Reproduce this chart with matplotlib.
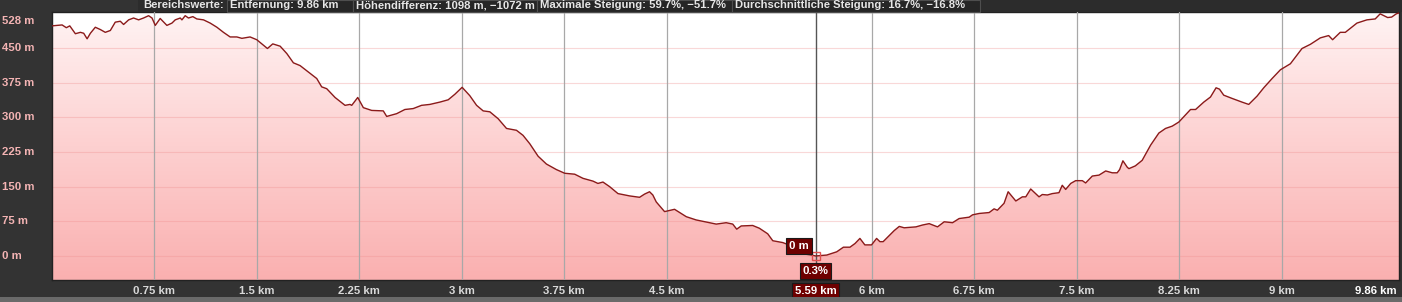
import matplotlib.pyplot as plt
import matplotlib.transforms as mtransforms
from matplotlib.patches import Polygon, Rectangle
from matplotlib.colors import LinearSegmentedColormap
import numpy as np

# elevation profile (km, m)
dist_km = [0.0, 0.074, 0.105, 0.13, 0.171, 0.208, 0.232, 0.257, 0.281, 0.317,
           0.354, 0.39, 0.427, 0.463, 0.5, 0.524, 0.561, 0.597, 0.634, 0.67,
           0.707, 0.732, 0.756, 0.792, 0.841, 0.878, 0.902, 0.939, 0.951, 0.975,
           0.999, 1.031, 1.06, 1.109, 1.158, 1.207, 1.255, 1.304, 1.353, 1.39,
           1.45, 1.499, 1.577, 1.616, 1.67, 1.719, 1.767, 1.816, 1.877, 1.938,
           1.974, 2.011, 2.072, 2.145, 2.181, 2.194, 2.238, 2.279, 2.34, 2.425,
           2.45, 2.523, 2.583, 2.644, 2.705, 2.766, 2.839, 2.9, 2.949, 3.002,
           3.058, 3.108, 3.156, 3.205, 3.266, 3.327, 3.4, 3.448, 3.497, 3.558,
           3.619, 3.692, 3.753, 3.826, 3.887, 3.96, 3.996, 4.033, 4.082, 4.143,
           4.228, 4.301, 4.338, 4.374, 4.398, 4.423, 4.484, 4.557, 4.606, 4.643,
           4.715, 4.813, 4.862, 4.935, 4.983, 5.012, 5.045, 5.129, 5.178, 5.239,
           5.276, 5.349, 5.43, 5.512, 5.561, 5.59, 5.671, 5.744, 5.793, 5.841,
           5.878, 5.914, 5.95, 5.999, 6.036, 6.06, 6.084, 6.121, 6.165, 6.202,
           6.238, 6.324, 6.372, 6.421, 6.482, 6.531, 6.592, 6.64, 6.714, 6.738,
           6.787, 6.86, 6.896, 6.92, 6.969, 6.999, 7.055, 7.103, 7.128, 7.164,
           7.225, 7.249, 7.286, 7.322, 7.371, 7.395, 7.42, 7.457, 7.493, 7.542,
           7.566, 7.615, 7.664, 7.713, 7.761, 7.797, 7.815, 7.839, 7.871, 7.883,
           7.93, 7.98, 8.042, 8.102, 8.151, 8.2, 8.249, 8.334, 8.371, 8.431,
           8.48, 8.521, 8.546, 8.577, 8.638, 8.711, 8.76, 8.821, 8.87, 8.931,
           8.992, 9.065, 9.15, 9.211, 9.284, 9.345, 9.374, 9.43, 9.467, 9.552,
           9.625, 9.686, 9.722, 9.777, 9.806, 9.84, 9.86]
elev_m = [498, 500, 494, 498, 481, 484, 482, 470, 482, 495,
          490, 484, 488, 506, 508, 501, 511, 515, 511, 515,
          520, 515, 499, 514, 499, 504, 511, 515, 511, 520,
          515, 518, 513, 511, 504, 495, 484, 474, 474, 471,
          474, 468, 449, 459, 454, 438, 418, 412, 398, 384,
          366, 362, 343, 326, 328, 326, 343, 321, 315, 314,
          302, 308, 317, 319, 326, 328, 333, 338, 350, 365,
          347, 326, 314, 312, 297, 276, 272, 261, 243, 216,
          199, 187, 179, 177, 168, 162, 157, 160, 150, 135,
          130, 127, 134, 139, 132, 117, 96, 101, 92, 85,
          78, 72, 69, 72, 69, 58, 65, 66, 60, 48,
          33, 29, 20, 4, 2, 0, 2, 9, 19, 19,
          27, 38, 24, 24, 38, 31, 31, 42, 55, 64,
          61, 63, 67, 70, 63, 74, 72, 81, 84, 89,
          92, 94, 102, 99, 114, 139, 119, 128, 128, 145,
          128, 133, 132, 135, 137, 153, 144, 157, 163, 163,
          158, 173, 175, 184, 180, 180, 187, 206, 192, 189,
          195, 207, 240, 266, 276, 281, 290, 317, 317, 333,
          344, 364, 361, 348, 341, 333, 328, 346, 364, 384,
          403, 416, 449, 458, 472, 477, 468, 484, 484, 504,
          511, 513, 524, 516, 517, 524, 526]

x_ticks = [0.75, 1.5, 2.25, 3, 3.75, 4.5, 6, 6.75, 7.5, 8.25, 9]
x_tick_labels = ['0.75 km', '1.5 km', '2.25 km', '3 km', '3.75 km', '4.5 km',
                 '6 km', '6.75 km', '7.5 km', '8.25 km', '9 km']
y_ticks = [0, 75, 150, 225, 300, 375, 450]
y_tick_labels = ['0 m', '75 m', '150 m', '225 m', '300 m', '375 m', '450 m']

total_km = 9.86
sel_km = 5.59
header = ['Entfernung: 9.86 km', 'Höhendifferenz: 1098 m, \u22121072 m',
          'Maximale Steigung: 59.7%, \u221251.7%',
          'Durchschnittliche Steigung: 16.7%, \u221216.8%']

W, H = 1402, 302
ymin, ymax = -52, 528

fig = plt.figure(figsize=(W / 100, H / 100), dpi=100, facecolor='#333333')


def fx(px):
    return px / W


def fy(py):
    return 1 - py / H


ax = fig.add_axes([fx(52), fy(280), fx(1399 - 52), (280 - 12) / H])
ax.set_xlim(0, total_km)
ax.set_ylim(ymin, ymax)
ax.set_facecolor('white')

# gradient fill under the profile
verts = [(0, ymin)] + list(zip(dist_km, elev_m)) + [(total_km, ymin)]
poly = Polygon(verts, closed=True, facecolor='none', edgecolor='none')
ax.add_patch(poly)
cmap = LinearSegmentedColormap.from_list('fill', ['#fab0b0', '#fdd0d0', '#fff3f3'])
grad = np.linspace(0, 1, 256).reshape(-1, 1)
im = ax.imshow(grad, extent=[0, total_km, ymin, ymax], origin='lower',
               aspect='auto', cmap=cmap, zorder=1)
im.set_clip_path(poly)

ax.plot(dist_km, elev_m, color='#8b1a1a', lw=1.0, zorder=4)

# grid
for yv in y_ticks:
    ax.axhline(yv, color='#f09090', lw=0.8, alpha=0.35, zorder=2)
for xv in x_ticks:
    ax.axvline(xv, color='#a8a8a8', lw=0.9, zorder=3)
ax.axvline(sel_km, color='#555555', lw=1.0, zorder=3)

ax.set_xticks([])
ax.set_yticks([])
for s in ax.spines.values():
    s.set_color('#222222')
    s.set_linewidth(1)

# tick labels
tick_font = dict(family='Liberation Sans', fontweight='bold', fontsize=8.2)
trans_x = mtransforms.blended_transform_factory(ax.transData, fig.transFigure)
for xv, lab in zip(x_ticks, x_tick_labels):
    ax.text(xv, fy(291), lab, transform=trans_x, ha='center', va='center',
            color='#d8d8d8', **tick_font)
ax.text(fx(1397), fy(291), '9.86 km', transform=fig.transFigure, ha='right',
        va='center', color='white', **tick_font)

trans_y = mtransforms.blended_transform_factory(fig.transFigure, ax.transData)
for yv, lab in zip(y_ticks, y_tick_labels):
    ax.text(fx(2), yv, lab, transform=trans_y, ha='left', va='center',
            color='#f4b4b4', **tick_font)
ax.text(fx(2), fy(21), '528 m', transform=fig.transFigure, ha='left',
        va='center', color='#f4b4b4', **tick_font)

# selected point
ax.plot([sel_km], [0], marker='s', ms=6, mfc='none', mec='#e05050', mew=1,
        zorder=6)
box = dict(boxstyle='square,pad=0.25', fc='#6e0000', ec='#1a1a1a', lw=0.8)
ax.text(5.468, 22, '0 m', ha='center', va='center', color='white',
        bbox=box, zorder=7, **tick_font)
ax.text(sel_km, -32, '0.3%', ha='center', va='center', color='white',
        bbox=box, zorder=7, **tick_font)
ax.text(sel_km, fy(291), '5.59 km', transform=trans_x, ha='center',
        va='center', color='white', bbox=box, zorder=7, **tick_font)

# header bar
head_font = dict(family='Liberation Sans', fontweight='bold', fontsize=8.1)
fig.add_artist(Rectangle((fx(138), fy(12)), fx(1402 - 138), 12 / H,
                         transform=fig.transFigure, fc='#2c2c2c', ec='none'))
fig.text(fx(143), fy(5.5), 'Bereichswerte:', ha='left', va='center',
         color='#e6e6e6', **head_font)
box_edges = [227, 353, 537, 732, 980]
for i, txt in enumerate(header):
    x0, x1 = box_edges[i], box_edges[i + 1]
    fig.add_artist(Rectangle((fx(x0), fy(12)), fx(x1 - x0), 12 / H,
                             transform=fig.transFigure, fc='#262626',
                             ec='#4e4e4e', lw=0.8))
    fig.text(fx(x0 + 3), fy(5.5), txt, ha='left', va='center',
             color='#e6e6e6', **head_font)

# textured strip at the bottom
fig.add_artist(Rectangle((0, 0), 1, 5 / H, transform=fig.transFigure,
                         fc='#6a6a6a', ec='none'))

fig.savefig('out.png', dpi=100, facecolor=fig.get_facecolor())
